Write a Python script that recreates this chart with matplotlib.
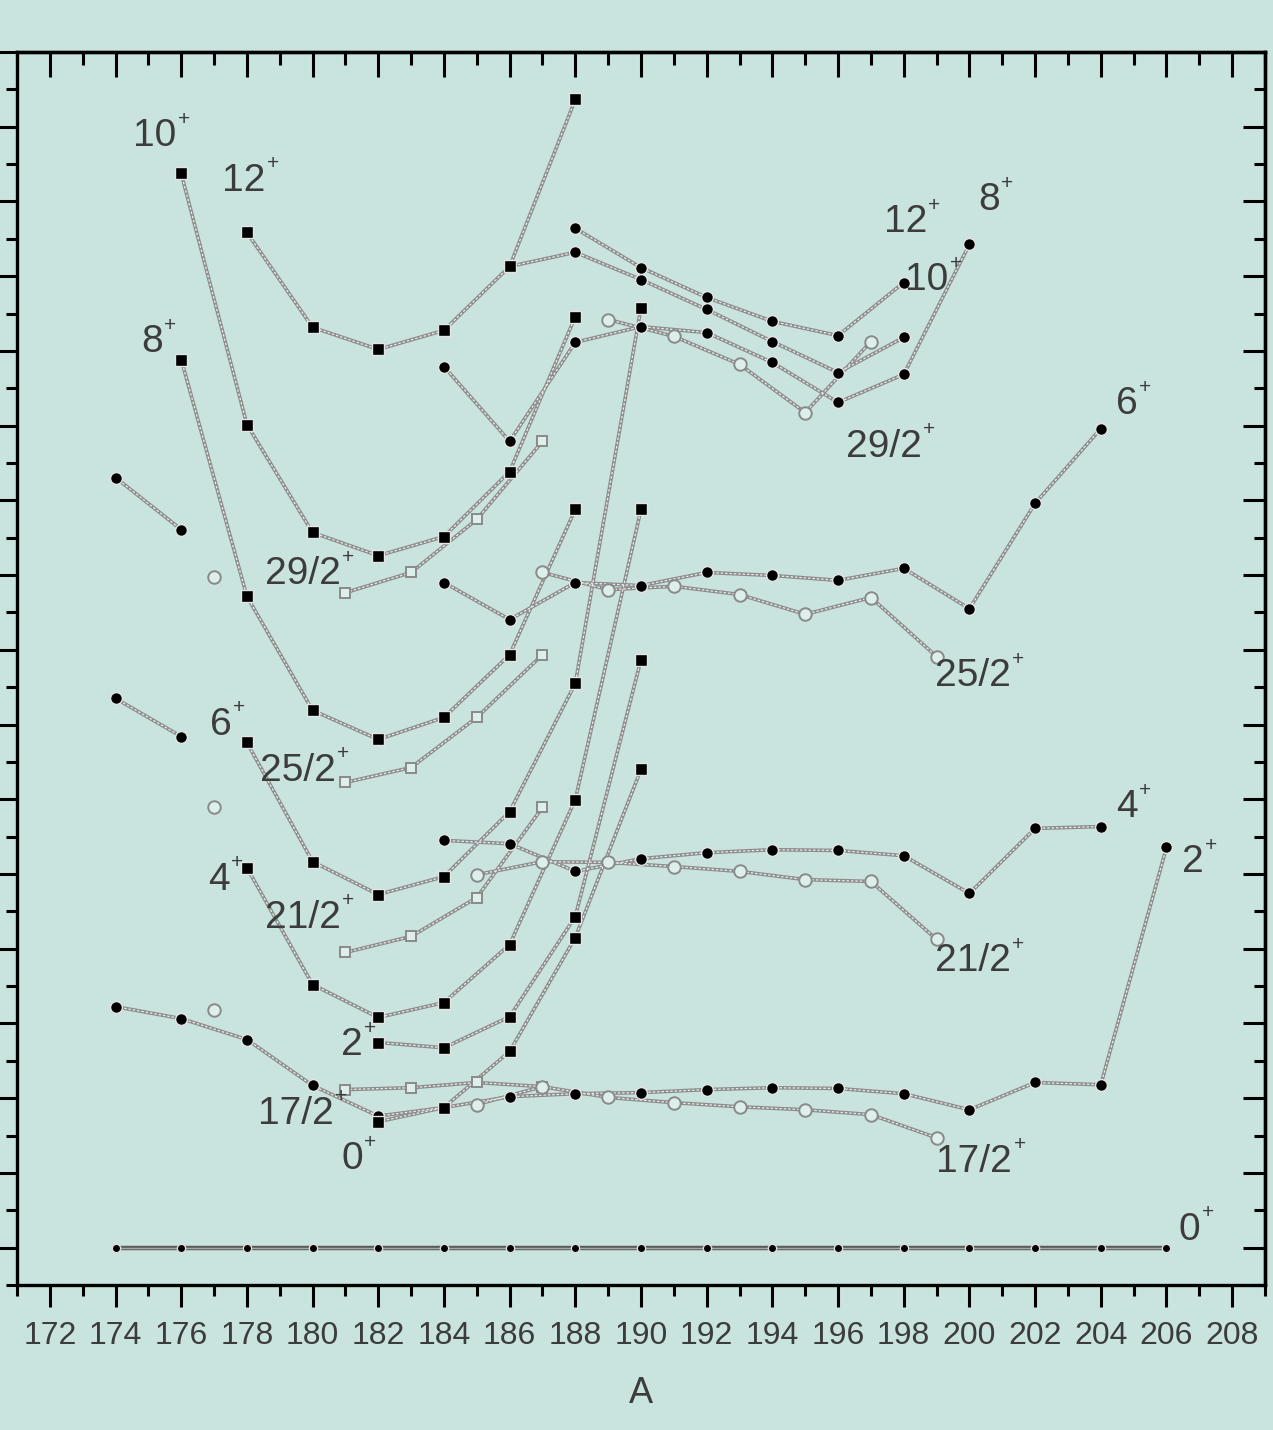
import matplotlib.pyplot as plt
from matplotlib.ticker import MultipleLocator

plt.rcParams['font.family'] = ['Liberation Sans Narrow', 'Liberation Sans', 'DejaVu Sans']

# ground band of the even isotopes (filled circles), energies in keV
A_g0 = [174, 176, 178, 180, 182, 184, 186, 188, 190, 192, 194, 196, 198, 200, 202, 204, 206]
E_g0 = [0, 0, 0, 0, 0, 0, 0, 0, 0, 0, 0, 0, 0, 0, 0, 0, 0]
A_g2 = [174, 176, 178, 180, 182, 184, 186, 188, 190, 192, 194, 196, 198, 200, 202, 204, 206]
E_g2 = [645, 613, 557, 434, 352, 375, 404, 412, 415, 423, 428, 426, 412, 369, 442, 436, 1071]
A_g4a = [174, 176]
E_g4a = [1470, 1368]
A_g4 = [184, 186, 188, 190, 192, 194, 196, 198, 200, 202, 204]
E_g4 = [1090, 1081, 1007, 1041, 1057, 1065, 1063, 1049, 948, 1122, 1127]
A_g6a = [174, 176]
E_g6a = [2061, 1922]
A_g6 = [184, 186, 188, 190, 192, 194, 196, 198, 200, 202, 204]
E_g6 = [1780, 1681, 1780, 1772, 1807, 1799, 1786, 1818, 1710, 1992, 2192]
A_g8 = [184, 186, 188, 190, 192, 194, 196, 198, 200]
E_g8 = [2358, 2158, 2423, 2465, 2449, 2369, 2262, 2337, 2685]
A_g10 = [186, 188, 190, 192, 194, 196, 198]
E_g10 = [2626, 2664, 2591, 2511, 2425, 2342, 2436]
A_g12 = [188, 190, 192, 194, 196, 198]
E_g12 = [2728, 2623, 2543, 2479, 2441, 2583]

# intruder band (filled squares)
A_s0 = [182, 184, 186, 188, 190]
E_s0 = [337, 375, 525, 830, 1280]
A_s2 = [182, 184, 186, 188, 190]
E_s2 = [549, 535, 618, 886, 1574]
A_s4 = [178, 180, 182, 184, 186, 188, 190]
E_s4 = [1017, 704, 616, 656, 811, 1199, 1976]
A_s6 = [178, 180, 182, 184, 186, 188, 190]
E_s6 = [1352, 1033, 945, 993, 1167, 1510, 2516]
A_s8 = [176, 178, 180, 182, 184, 186, 188]
E_s8 = [2377, 1743, 1438, 1360, 1419, 1587, 1976]
A_s10 = [176, 178, 180, 182, 184, 186, 188]
E_s10 = [2875, 2203, 1914, 1852, 1903, 2077, 2492]
A_s12 = [178, 180, 182, 184, 186, 188]
E_s12 = [2717, 2463, 2404, 2455, 2626, 3073]

# odd isotopes, relative energies (open symbols)
A_oL = [181, 183, 185, 187]
E_o17L = [423, 428, 442, 431]
E_o21L = [790, 833, 937, 1178]
E_o25L = [1245, 1285, 1419, 1587]
E_o29L = [1753, 1807, 1949, 2158]
A_o17R = [185, 187, 189, 191, 193, 195, 197, 199]
E_o17R = [383, 431, 402, 388, 377, 369, 356, 294]
A_o21R = [185, 187, 189, 191, 193, 195, 197, 199]
E_o21R = [998, 1033, 1031, 1020, 1007, 985, 980, 825]
A_o25R = [187, 189, 191, 193, 195, 197, 199]
E_o25R = [1807, 1761, 1770, 1748, 1695, 1740, 1582]
A_o29R = [189, 191, 193, 195, 197]
E_o29R = [2484, 2439, 2364, 2235, 2425]
A_o177 = [177, 177, 177]
E_o177 = [637, 1178, 1796]

# level labels: text, A, E
labels = [
    ('10', 175.2, 2974), ('12', 177.9, 2854), ('8', 175.1, 2423),
    ('29/2', 179.7, 1802), ('6', 177.2, 1400), ('25/2', 179.55, 1277),
    ('4', 177.15, 985), ('21/2', 179.7, 883), ('2', 181.2, 541),
    ('17/2', 179.5, 359), ('0', 181.2, 236),
    ('12', 198.05, 2744), ('8', 200.6, 2803), ('10', 198.7, 2589),
    ('29/2', 197.4, 2144), ('6', 204.8, 2257), ('25/2', 200.1, 1529),
    ('4', 204.8, 1178), ('2', 206.8, 1031), ('21/2', 200.1, 766),
    ('17/2', 200.15, 230), ('0', 206.7, 48),
]

BG = '#c9e4df'
INK = '#3c3c3c'

fig = plt.figure(figsize=(12.73, 14.30), dpi=100, facecolor=BG)
ax = fig.add_axes([17 / 1273, 1 - 1285 / 1430, 1248 / 1273, 1233 / 1430])
ax.set_facecolor(BG)


def line(a, e, z=2):
    ax.plot(a, e, color='#8c8c8c', lw=2.6, zorder=z, solid_capstyle='round')
    ax.plot(a, e, color='#ececec', lw=0.9, ls=(0, (2, 1.5)), zorder=z + 0.1)


def filled(a, e, marker, ms=8.5):
    line(a, e)
    ax.plot(a, e, ls='none', marker=marker, ms=ms, mfc='black', mec='#e4e4e4',
            mew=1.0, zorder=5)


def hollow(a, e, marker, ms=8.5, connect=True):
    if connect:
        line(a, e)
    ax.plot(a, e, ls='none', marker=marker, ms=ms, mfc='#dcefeb', mec='#8a8a8a',
            mew=1.4, zorder=4)


# ground state line
ax.plot(A_g0, E_g0, color='#5a5a5a', lw=3.2, zorder=2)
ax.plot(A_g0, E_g0, color='#a8a8a8', lw=1.0, zorder=2.1)
ax.plot(A_g0, E_g0, ls='none', marker='o', ms=6, mfc='black', mec='#dddddd',
        mew=1.0, zorder=5)

for a, e in [(A_g2, E_g2), (A_g4a, E_g4a), (A_g4, E_g4), (A_g6a, E_g6a),
             (A_g6, E_g6), (A_g8, E_g8), (A_g10, E_g10), (A_g12, E_g12)]:
    filled(a, e, 'o')

for a, e in [(A_s0, E_s0), (A_s2, E_s2), (A_s4, E_s4), (A_s6, E_s6),
             (A_s8, E_s8), (A_s10, E_s10), (A_s12, E_s12)]:
    filled(a, e, 's', ms=8)

for e in [E_o17L, E_o21L, E_o25L, E_o29L]:
    hollow(A_oL, e, 's', ms=7.5)
for a, e in [(A_o17R, E_o17R), (A_o21R, E_o21R), (A_o25R, E_o25R), (A_o29R, E_o29R)]:
    hollow(a, e, 'o', ms=9)
hollow(A_o177, E_o177, 'o', ms=9, connect=False)

# spin labels with a small raised parity sign
for txt, a, e in labels:
    t = ax.text(a, e, txt, fontsize=28, color=INK, ha='center', va='center',
                zorder=6)
    ax.annotate('+', xy=(1.0, 0.98), xycoords=t, xytext=(1, 0),
                textcoords='offset points', fontsize=15, color=INK,
                ha='left', va='center', zorder=6)

# axes, ticks
ax.set_xlim(171, 209)
ax.set_ylim(-100, 3200)
ax.xaxis.set_major_locator(MultipleLocator(2))
ax.xaxis.set_minor_locator(MultipleLocator(1))
ax.yaxis.set_major_locator(MultipleLocator(200))
ax.yaxis.set_minor_locator(MultipleLocator(100))
ax.tick_params(which='both', direction='out', width=2.2, top=False, right=False,
               labelleft=False)
ax.tick_params(which='major', length=16)
ax.tick_params(which='minor', length=8)
ax.tick_params(axis='x', labelsize=23, labelcolor=INK, pad=10)
for s in ax.spines.values():
    s.set_linewidth(2.4)

secx = ax.secondary_xaxis('top')
secx.xaxis.set_major_locator(MultipleLocator(2))
secx.xaxis.set_minor_locator(MultipleLocator(1))
secx.tick_params(which='both', direction='in', width=2.2, labeltop=False)
secx.tick_params(which='major', length=18)
secx.tick_params(which='minor', length=9)
secx.spines['top'].set_linewidth(2.4)

secy = ax.secondary_yaxis('right')
secy.yaxis.set_major_locator(MultipleLocator(200))
secy.yaxis.set_minor_locator(MultipleLocator(100))
secy.tick_params(which='both', direction='in', width=2.2, labelright=False)
secy.tick_params(which='major', length=16)
secy.tick_params(which='minor', length=8)
secy.spines['right'].set_linewidth(2.4)

ax.set_xlabel('A', fontsize=26, color=INK, labelpad=18)

fig.savefig('out.png', dpi=100, facecolor=BG)
